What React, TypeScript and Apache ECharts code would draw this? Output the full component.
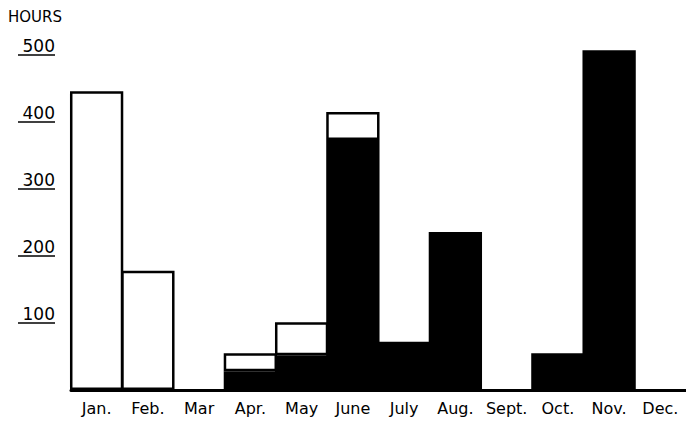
import React, { useEffect, useRef } from "react";
import * as echarts from "echarts";

const months = ["Jan.", "Feb.", "Mar", "Apr.", "May", "June", "July", "Aug.", "Sept.", "Oct.", "Nov.", "Dec."];
const blackHours = [0, 0, 0, 28, 52, 373, 72, 236, 0, 55, 507, 0];
const whiteHours = [446, 178, 0, 27, 49, 42, 0, 0, 0, 0, 0, 0];
const yTickValues = [100, 200, 300, 400, 500];
const yMax = 520;
const yName = "HOURS";

export default function App() {
  const ref = useRef<HTMLDivElement>(null);
  useEffect(() => {
    if (!ref.current) return;
    const chart = echarts.init(ref.current, null, { renderer: "svg" });
    const font = "DejaVu Sans";
    chart.setOption({
      animation: false,
      backgroundColor: "#fff",
      grid: { left: 71, right: -2, top: 41.6, bottom: 32, containLabel: false },
      xAxis: {
        type: "category",
        data: months,
        boundaryGap: true,
        axisLine: { show: true, lineStyle: { color: "#000", width: 3 } },
        axisTick: { show: false },
        axisLabel: {
          interval: 0,
          color: "#000",
          fontFamily: font,
          fontSize: 16,
          margin: 10,
        },
      },
      yAxis: {
        type: "value",
        min: 0,
        max: yMax,
        offset: 16,
        name: yName,
        nameLocation: "end",
        nameGap: 17,
        nameTextStyle: {
          color: "#000",
          fontFamily: font,
          fontSize: 15,
          align: "center",
          padding: [0, 40, 0, 0],
        },
        splitLine: { show: false },
        axisLine: { show: false },
        axisTick: {
          show: true,
          inside: false,
          length: 37,
          customValues: yTickValues,
          lineStyle: { color: "#000", width: 1.5 },
        },
        axisLabel: {
          customValues: yTickValues,
          color: "#000",
          fontFamily: font,
          fontSize: 17,
          margin: 0,
          align: "right",
          verticalAlign: "bottom",
          padding: [0, 0, 1, 0],
        },
      },
      series: [
        {
          type: "bar",
          name: "black",
          stack: "h",
          barWidth: "104%",
          barCategoryGap: "0%",
          data: blackHours.map((v) => (v ? v : null)),
          itemStyle: { color: "#000" },
        },
        {
          type: "bar",
          name: "white",
          stack: "h",
          barWidth: "104%",
          barCategoryGap: "0%",
          data: whiteHours.map((v) => (v ? v : null)),
          itemStyle: { color: "#fff", borderColor: "#000", borderWidth: 2.5 },
        },
      ],
    });
    return () => chart.dispose();
  }, []);
  return (
    <div
      ref={ref}
      style={{ position: "fixed", left: 0, top: 0, width: 686, height: 422, background: "#fff" }}
    />
  );
}
